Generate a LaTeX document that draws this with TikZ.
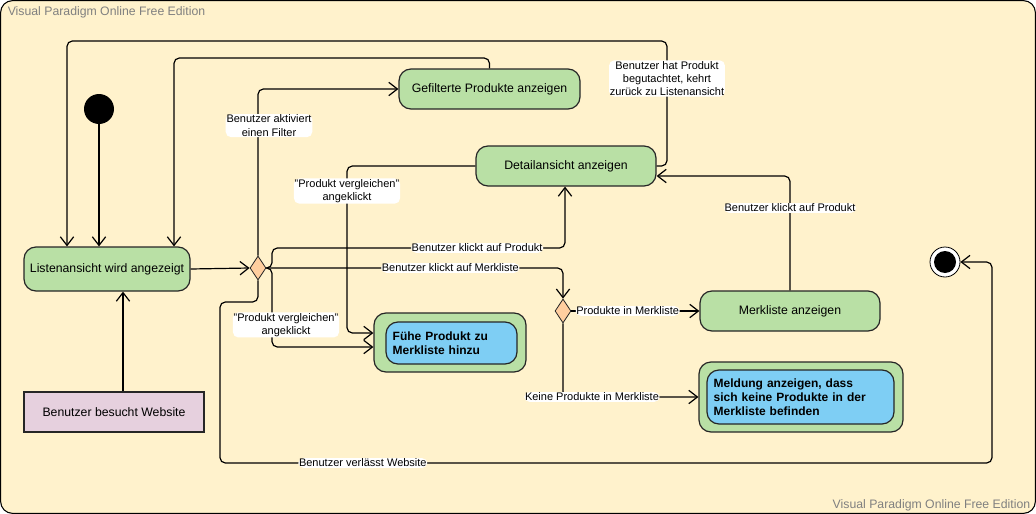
\documentclass[tikz,border=0pt]{standalone}
\usepackage{fontspec}
\setmainfont{Liberation Sans}
\usepackage{tikz}
\usetikzlibrary{shapes.geometric, arrows.meta}

\definecolor{bgcream}{HTML}{FFF2CC}
\definecolor{actgreen}{HTML}{B9E0A5}
\definecolor{actblue}{HTML}{7ECEF4}
\definecolor{visitpink}{HTML}{E6D0DE}
\definecolor{choiceorange}{HTML}{FFCE9F}
\definecolor{markgray}{HTML}{808080}

\tikzset{
  action/.style = {draw = black!85, fill = actgreen, rounded corners = 9pt, line width = 0.9pt,
    minimum height = 30pt, inner sep = 0pt, font = \fontsize{9.2}{11}\selectfont},
  innerbox/.style = {draw = black!85, fill = actblue, rounded corners = 9pt, line width = 0.9pt,
    inner sep = 5pt, align = left, font = \fontsize{9}{10.5}\selectfont\bfseries},
  choice/.style = {diamond, draw = black!85, fill = choiceorange, line width = 0.6pt,
    minimum width = 12pt, minimum height = 18pt, inner sep = 0pt},
  flow/.style = {line width = 0.9pt, rounded corners = 4pt, -{Straight Barb[length = 6.5pt, width = 10pt]}},
  lbl/.style = {fill = white, inner sep = 0.6pt, align = center, font = \fontsize{8.25}{10}\selectfont},
  watermark/.style = {text = markgray, inner sep = 0pt, font = \fontsize{9.2}{11}\selectfont}
}

\begin{document}
\begin{tikzpicture}[x = 0.75pt, y = -0.75pt]
\useasboundingbox (0,0) rectangle (1036,514);
\draw[fill = bgcream, line width = 0.8pt, rounded corners = 9pt] (0.6,0.6) rectangle (1035.4,513.4);
\node[watermark, anchor = west] (markleft) at (7.5,12) {Visual Paradigm Online Free Edition};
\node[watermark, anchor = east] (markright) at (1030.5,505) {Visual Paradigm Online Free Edition};

% nodes
\node[circle, fill = black, minimum size = 22.5pt, inner sep = 0pt] (start) at (99,109) {};
\node[action, minimum width = 124.5pt, minimum height = 33pt] (list) at (107,269) {Listenansicht wird angezeigt};
\node[draw = black!85, fill = visitpink, line width = 0.9pt, minimum width = 135pt, minimum height = 30pt,
  font = \fontsize{9.2}{11}\selectfont] (visit) at (114,412) {Benutzer besucht Website};
\node[choice] (choice) at (258,268) {};
\node[action, minimum width = 135.75pt] (filter) at (489.5,89) {Gefilterte Produkte anzeigen};
\node[action, minimum width = 135pt] (detail) at (566,166) {Detailansicht anzeigen};
\node[action, minimum width = 114pt, minimum height = 44.25pt] (addbox) at (450,342.5) {};
\node[innerbox, text width = 88.25pt, minimum height = 31.5pt] (add) at (451.5,343) {Fühe Produkt zu\\Merkliste hinzu};
\node[choice] (wchoice) at (563,311) {};
\node[action, minimum width = 135pt] (wlist) at (790,311) {Merkliste anzeigen};
\node[action, minimum width = 153pt, minimum height = 52.5pt] (msgbox) at (801,397) {};
\node[innerbox, text width = 130.25pt, minimum height = 40.5pt] (msg) at (800.5,397) {Meldung anzeigen, dass\\sich keine Produkte in der\\Merkliste befinden};
\node[circle, draw = black, fill = white, line width = 0.6pt, minimum size = 22.5pt, inner sep = 0pt] (stop) at (945,262) {};
\node[circle, fill = black, minimum size = 16.5pt, inner sep = 0pt] (stopdot) at (stop) {};

% connectors
\draw[flow] (start) -- (start |- list.north);
\draw[flow] (visit.north -| 123,0) -- (list.south -| 123,0);
\draw[flow] (list.east) -- (choice.west);
\draw[flow] (filter.north) |- (174,58) -- (list.north -| 174,0);
\draw[flow] (detail.east) -- (667,0 |- detail.east) -- node[lbl, pos = 0.7] {Benutzer hat Produkt\\begutachtet, kehrt\\zurück zu Listenansicht} (667,41) -| (list.north -| 67,0);
\draw[flow] (choice.north) -- node[lbl, pos = 0.78, xshift = 8.25pt] {Benutzer aktiviert\\einen Filter} (choice.north |- filter.west) -- (filter.west);
\draw[flow] (choice.east) -- (272,268) -- (272,248) -- node[lbl, pos = 0.7] {Benutzer klickt auf Produkt} (565,248) -- (detail.south -| 565,0);
\draw[flow] (choice.east) -- node[lbl, pos = 0.62] {Benutzer klickt auf Merkliste} (wchoice.north |- choice.east) -- (wchoice.north);
\draw[flow] (choice.east) -- (272,268) -- node[lbl, pos = 0.72, xshift = 10.5pt] {"Produkt vergleichen"\\angeklickt} (272,347) -- (addbox.west |- 0,347);
\draw[flow] (detail.west) -- (347,0 |- detail.west) -- node[lbl, pos = 0.15] {"Produkt vergleichen"\\angeklickt} (347,333) -- (addbox.west |- 0,333);
\draw[flow] (choice.south) -- (258,302) -- (220,302) -- (220,463) -- node[lbl, pos = 0.185] {Benutzer verlässt Website} (992,463) |- (stop.east);
\draw[flow] (wchoice.east) -- node[lbl, pos = 0.44] {Produkte in Merkliste} (wlist.west);
\draw[flow] (wchoice.south) |- node[lbl, pos = 0.607] {Keine Produkte in Merkliste} (msgbox.west);
\draw[flow] (wlist.north) -- node[lbl, pos = 0.72] {Benutzer klickt auf Produkt} (wlist.north |- 0,176) -- (detail.east |- 0,176);
\end{tikzpicture}
\end{document}
